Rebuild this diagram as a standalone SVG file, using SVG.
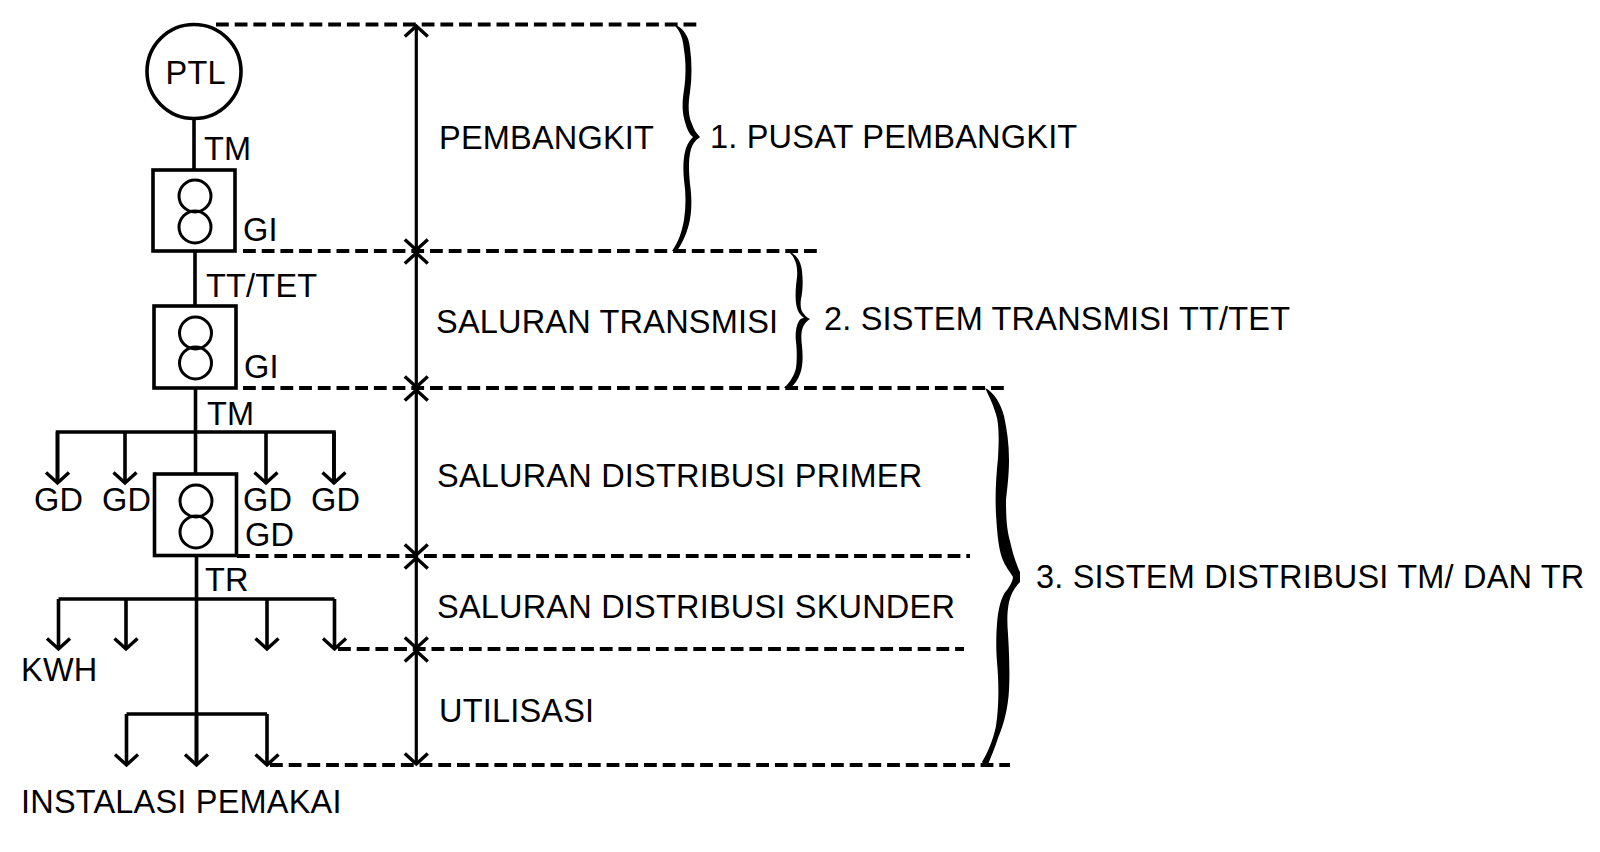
<svg xmlns="http://www.w3.org/2000/svg" width="1600" height="852" viewBox="0 0 1600 852">
<style>
text{font-family:"Liberation Sans",Arial,sans-serif;font-size:32.500px;letter-spacing:.2px;fill:#000}
.l{fill:none;stroke:#000;stroke-width:3.6}
.n{fill:#fff;stroke:#000;stroke-width:3.6}
.c{fill:none;stroke:#000;stroke-width:3}
.d{fill:none;stroke:#000;stroke-width:3.8;stroke-dasharray:12.800 5.900}
.a{marker-end:url(#ah)}
.m{fill:none;stroke:#000;stroke-width:3.200;marker-start:url(#ah);marker-end:url(#ah)}
</style>
<defs>
<marker id="ah" markerUnits="userSpaceOnUse" viewBox="-14 -14 28 28" markerWidth="28" markerHeight="28" refX="0" refY="0" orient="auto-start-reverse"><path d="M-10.500 -11.500L0 0L-10.500 11.500" fill="none" stroke="#000" stroke-width="3.400"/></marker>
</defs>
<rect width="1600" height="852" fill="#fff"/>
<g id="connectors">
<path class="l" d="M194 119V170M195 251V306M195.500 388V474M196.500 556V765"/>
<path class="l" d="M57.500 482V432H334V482"/>
<path class="l a" d="M57.500 432V483"/>
<path class="l a" d="M125 432V483"/>
<path class="l a" d="M266 432V483"/>
<path class="l a" d="M334 432V483"/>
<path class="l" d="M58.500 599H334.500"/>
<path class="l a" d="M58.500 599V649"/>
<path class="l a" d="M126 599V649"/>
<path class="l a" d="M267 599V649"/>
<path class="l a" d="M334.500 599V649"/>
<path class="l" d="M126.500 714H267"/>
<path class="l a" d="M126.500 714V765"/>
<path class="l a" d="M196.500 714V765"/>
<path class="l a" d="M267 714V765"/>
<path class="d" d="M216 24.500H698"/>
<path class="d" d="M243 251H820"/>
<path class="d" d="M243 388H1006"/>
<path class="d" d="M237 556H970"/>
<path class="d" d="M338 649H964"/>
<path class="d" d="M270 765H1010"/>
<path class="m" d="M416.300 26V250"/>
<path class="m" d="M416.300 253V387"/>
<path class="m" d="M416.300 390V555"/>
<path class="m" d="M416.300 558V648"/>
<path class="m" d="M416.300 651V764"/>
</g>
<g id="braces">
<path d="M673 24C683 27 689 36 690 48C692 62 692 78 690 92C688 104 688 116 692 124C694 130 697 134 700 137C696 140 693 143 691 149C688 160 689 172 690 184C692 198 692 212 689 224C686 236 681 245 677 251L672 251C679 241 682 231 684 220C686 206 686 194 684 180C683 168 683 158 686 148C688 143 690 140 693 137C689 134 687 129 685 122C682 112 682 102 684 90C686 76 686 62 684 50C683 38 680 30 673 24Z"/>
<path d="M788 251C796 254 801 261 802 271C803 280 803 290 801 299C800 306 801 311 804 314C806 317 808 318 810 319C807 321 805 323 803 327C801 332 801 338 802 346C803 356 803 366 800 374C798 380 794 385 790 388L784 388C790 382 794 376 796 368C797 360 797 350 796 342C795 334 796 326 799 321C800 319 802 318 804 318C800 315 797 311 796 303C795 295 796 285 797 277C798 265 795 257 788 251Z"/>
<path d="M985 388C994 392 1001 404 1004 416C1007 430 1009 444 1009 460C1009 476 1007 490 1006 500C1006 520 1007 530 1010 541C1012 551 1016 564 1020 572L1020 582C1014 588 1011 594 1009 602C1007 612 1007 622 1008 634C1009 650 1010 672 1009 690C1008 708 1004 724 998 738C995 748 990 759 987 767L982 762C988 752 993 740 996 726C999 706 999 684 997 662C996 650 996 636 997 624C998 610 1001 596 1007 590C1010 586 1013 580 1013 577C1010 572 1005 566 1002 558C998 546 997 530 996 514C995 496 996 478 998 458C999 440 999 428 997 418C994 406 989 396 985 388Z"/>
</g>
<g id="ptl"><circle class="n" cx="194" cy="71.500" r="47"/><text x="165.500" y="84">PTL</text></g>
<g id="gi1"><rect class="n" x="153" y="170" width="82" height="81"/><circle class="c" cx="195" cy="196" r="16"/><circle class="c" cx="195" cy="227" r="16"/><text x="243" y="241">GI</text></g>
<g id="gi2"><rect class="n" x="154" y="306" width="82" height="82"/><circle class="c" cx="195.500" cy="333" r="16"/><circle class="c" cx="195.500" cy="363" r="16"/><text x="244" y="378">GI</text></g>
<g id="gd"><rect class="n" x="154.500" y="474" width="82" height="81.500"/><circle class="c" cx="196" cy="501" r="16"/><circle class="c" cx="196" cy="532" r="16"/><text x="245" y="546">GD</text></g>
<g id="labels">
<text x="204" y="160">TM</text>
<text x="206" y="297">TT/TET</text>
<text x="207" y="425">TM</text>
<text x="34" y="511">GD</text>
<text x="102" y="511">GD</text>
<text x="243" y="511">GD</text>
<text x="311" y="511">GD</text>
<text x="205" y="591">TR</text>
<text x="21" y="681">KWH</text>
<text x="21" y="813">INSTALASI PEMAKAI</text>
<text x="439" y="149">PEMBANGKIT</text>
<text x="436" y="333">SALURAN TRANSMISI</text>
<text x="437" y="487">SALURAN DISTRIBUSI PRIMER</text>
<text x="437" y="618">SALURAN DISTRIBUSI SKUNDER</text>
<text x="439" y="722">UTILISASI</text>
<text x="710" y="148">1. PUSAT PEMBANGKIT</text>
<text x="824" y="330">2. SISTEM TRANSMISI TT/TET</text>
<text x="1036" y="588">3. SISTEM DISTRIBUSI TM/ DAN TR</text>
</g>
</svg>
